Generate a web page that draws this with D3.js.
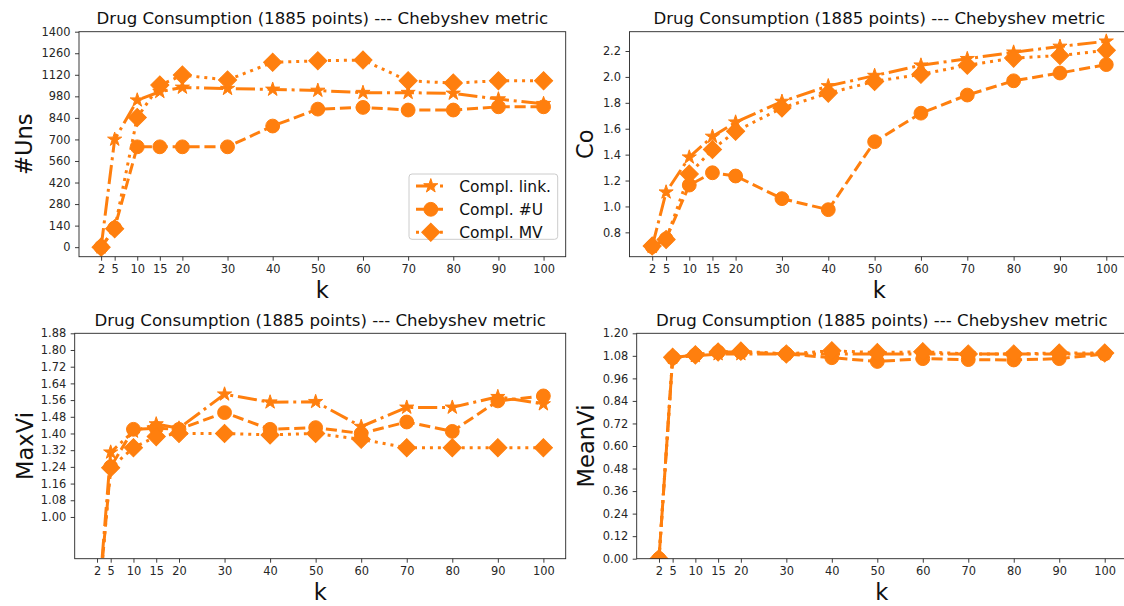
<!DOCTYPE html>
<html><head><meta charset="utf-8">
<script src="https://cdn.jsdelivr.net/npm/d3@7/dist/d3.min.js"></script>
<style>body{margin:0;background:#fff}svg{display:block}text{font-family:"DejaVu Sans",sans-serif}</style>
</head><body>
<svg id="c" width="1124" height="606"></svg>
<script>
const kVals = [2,5,10,15,20,30,40,50,60,70,80,90,100];
const seriesNames = ["Compl. link.","Compl. #U","Compl. MV"];

const unsLink = [0,700,955,1010,1038,1030,1025,1018,1004,1004,999,962,932];
const unsU    = [0,125,652,652,652,652,787,897,908,891,891,912,912];
const unsMV   = [0,120,843,1053,1118,1086,1201,1211,1216,1081,1066,1081,1081];

const coLink = [0.69,1.11,1.38,1.54,1.65,1.81,1.93,2.01,2.09,2.14,2.19,2.235,2.275];
const coU    = [0.69,0.75,1.165,1.26,1.235,1.06,0.975,1.50,1.72,1.86,1.97,2.03,2.095];
const coMV   = [0.695,0.745,1.25,1.44,1.58,1.76,1.875,1.965,2.02,2.09,2.145,2.165,2.205];

const maxLink = [0.5,1.31,1.41,1.445,1.425,1.588,1.55,1.552,1.433,1.525,1.525,1.576,1.541];
const maxU    = [0.5,1.24,1.42,1.425,1.42,1.50,1.42,1.428,1.40,1.455,1.41,1.556,1.58];
const maxMV   = [0.5,1.236,1.332,1.385,1.40,1.40,1.393,1.40,1.372,1.332,1.332,1.332,1.332];

const meanLink = [0,1.07,1.08,1.09,1.09,1.09,1.09,1.09,1.09,1.09,1.09,1.09,1.09];
const meanU    = [0,1.07,1.085,1.10,1.10,1.09,1.07,1.05,1.065,1.06,1.058,1.065,1.09];
const meanMV   = [0,1.072,1.085,1.10,1.105,1.09,1.107,1.097,1.102,1.09,1.09,1.095,1.095];

const unsTicks  = [0,140,280,420,560,700,840,980,1120,1260,1400];
const coTicks   = [0.8,1.0,1.2,1.4,1.6,1.8,2.0,2.2];
const maxTicks  = [1.00,1.08,1.16,1.24,1.32,1.40,1.48,1.56,1.64,1.72,1.80,1.88];
const meanTicks = [0.00,0.12,0.24,0.36,0.48,0.60,0.72,0.84,0.96,1.08,1.20];

const titleText = "Drug Consumption (1885 points) --- Chebyshev metric";
const COLOR = "#ff7f0e";

const panels = [
  {label:"#Uns",  data:[unsLink,unsU,unsMV],   ticks:unsTicks,  fmt:d3.format("d"),   ydom:[-62,1400],
   box:{l:79,r:565.7,t:31.7,b:256.7}, ylx:31.7, titleY:24, klY:298, legend:true},
  {label:"Co",    data:[coLink,coU,coMV],      ticks:coTicks,   fmt:d3.format(".1f"), ydom:[0.612,2.349],
   box:{l:629.5,r:1129,t:31.7,b:256.7}, ylx:593, titleY:24, klY:298},
  {label:"MaxVi", data:[maxLink,maxU,maxMV],   ticks:maxTicks,  fmt:d3.format(".2f"), ydom:[0.8,1.88],
   box:{l:74.7,r:565.7,t:333.3,b:558.7}, ylx:32.7, titleY:325.5, klY:600},
  {label:"MeanVi",data:[meanLink,meanU,meanMV],ticks:meanTicks, fmt:d3.format(".2f"), ydom:[0,1.2],
   box:{l:636.7,r:1127,t:333.3,b:558.7}, ylx:594, titleY:325.5, klY:600}
];

const LW = 3;
const dashes = ["19.2,4.8,3,4.8", "11.1,4.8", "3,4.95"];
const starSym = d3.symbol().type(d3.symbolStar).size(62)();
const circSym = d3.symbol().type(d3.symbolCircle).size(150)();
const diaSym  = d3.symbol().type(d3.symbolSquare).size(165)();
const markerPaths = [starSym, circSym, diaSym];
const markerRot = [0, 0, 45];

const svg = d3.select("#c");

panels.forEach((p, pi) => {
  const b = p.box;
  const x = d3.scaleLinear().domain([-2.9, 104.9]).range([b.l, b.r]);
  const y = d3.scaleLinear().domain(p.ydom).range([b.b, b.t]);
  const g = svg.append("g");
  const clipId = "clip" + pi;
  svg.append("clipPath").attr("id", clipId).append("rect")
    .attr("x", b.l).attr("y", b.t).attr("width", b.r - b.l).attr("height", b.b - b.t);

  const plot = g.append("g").attr("clip-path", `url(#${clipId})`);
  const line = d3.line().x((d, i) => x(kVals[i])).y(d => y(d));

  p.data.forEach((vals, si) => {
    plot.append("path").datum(vals)
      .attr("d", line).attr("fill", "none").attr("stroke", COLOR)
      .attr("stroke-width", LW).attr("stroke-dasharray", dashes[si])
      .attr("stroke-linecap", "butt").attr("stroke-linejoin", "round");
    plot.selectAll(null).data(vals).enter().append("path")
      .attr("d", markerPaths[si])
      .attr("transform", (d, i) => `translate(${x(kVals[i])},${y(d)}) rotate(${markerRot[si]})`)
      .attr("fill", COLOR).attr("stroke", COLOR).attr("stroke-width", 1);
  });

  const xa = g.append("g").attr("transform", `translate(0,${b.b})`)
    .call(d3.axisBottom(x).tickValues(kVals).tickFormat(d3.format("d")).tickSize(4).tickPadding(4));
  const ya = g.append("g").attr("transform", `translate(${b.l},0)`)
    .call(d3.axisLeft(y).tickValues(p.ticks).tickFormat(p.fmt).tickSize(4).tickPadding(4.5));
  [xa, ya].forEach(a => {
    a.select(".domain").remove();
    a.selectAll("text").attr("font-size", 11.4).attr("fill", "#262626").attr("font-family", "DejaVu Sans");
    a.selectAll("line").attr("stroke", "#262626").attr("stroke-width", 0.9);
  });

  g.append("rect").attr("x", b.l).attr("y", b.t).attr("width", b.r - b.l).attr("height", b.b - b.t)
    .attr("fill", "none").attr("stroke", "#262626").attr("stroke-width", 0.9);

  const cx = (b.l + b.r) / 2;
  g.append("text").attr("x", cx).attr("y", p.titleY).attr("text-anchor", "middle")
    .attr("font-size", 16.6).attr("fill", "#111").text(titleText);
  g.append("text").attr("x", cx).attr("y", p.klY).attr("text-anchor", "middle")
    .attr("font-size", 22.6).attr("fill", "#111").text("k");
  g.append("text").attr("transform", `translate(${p.ylx},${(b.t + b.b) / 2}) rotate(-90)`)
    .attr("text-anchor", "middle").attr("font-size", 22.6).attr("fill", "#111").text(p.label);

  if (p.legend) {
    const lg = g.append("g");
    lg.append("rect").attr("x", 409).attr("y", 174).attr("width", 148.7).attr("height", 65.3)
      .attr("rx", 3).attr("fill", "rgba(255,255,255,0.8)").attr("stroke", "#cccccc").attr("stroke-width", 1);
    const rows = [186, 209.3, 232.3];
    seriesNames.forEach((nm, si) => {
      lg.append("line").attr("x1", 416).attr("x2", 445.7).attr("y1", rows[si]).attr("y2", rows[si])
        .attr("stroke", COLOR).attr("stroke-width", LW).attr("stroke-dasharray", dashes[si]);
      lg.append("path").attr("d", markerPaths[si])
        .attr("transform", `translate(430.8,${rows[si]}) rotate(${markerRot[si]})`)
        .attr("fill", COLOR).attr("stroke", COLOR).attr("stroke-width", 1);
      lg.append("text").attr("x", 459.3).attr("y", rows[si]).attr("dy", "0.36em")
        .attr("font-size", 15.5).attr("fill", "#111").text(nm);
    });
  }
});
</script>
</body></html>
